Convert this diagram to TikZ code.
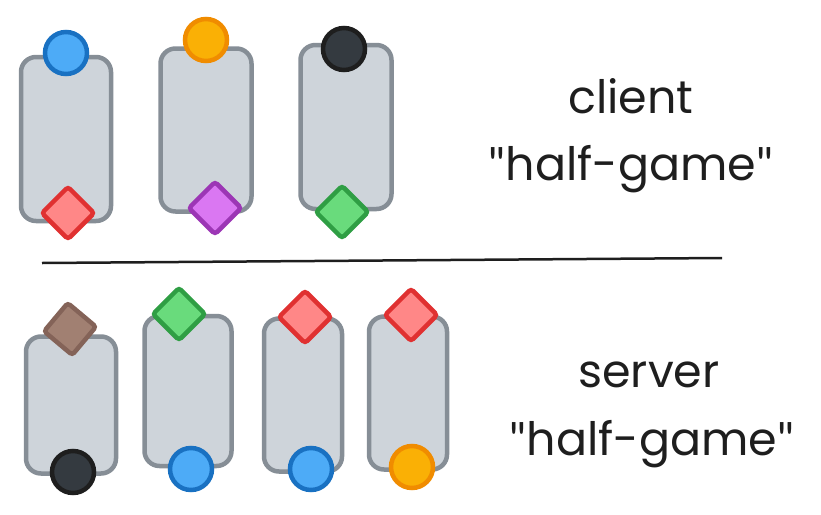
\documentclass[tikz,border=0pt]{standalone}
\usepackage{fontspec}
\setmainfont{Poppins}
\newfontfamily\quotefont{Lato}
\usetikzlibrary{shapes.geometric}

\definecolor{boxf}{HTML}{CED4DA}
\definecolor{boxl}{HTML}{868E96}
\definecolor{bluef}{HTML}{4DABF7}
\definecolor{bluel}{HTML}{1971C2}
\definecolor{orangef}{HTML}{FAB005}
\definecolor{orangel}{HTML}{F08C00}
\definecolor{darkf}{HTML}{343A40}
\definecolor{darkl}{HTML}{1E1E1E}
\definecolor{redf}{HTML}{FF8787}
\definecolor{redl}{HTML}{E03131}
\definecolor{purplef}{HTML}{DA77F2}
\definecolor{purplel}{HTML}{9C36B5}
\definecolor{greenf}{HTML}{69DB7C}
\definecolor{greenl}{HTML}{2F9E44}
\definecolor{brownf}{HTML}{A18072}
\definecolor{brownl}{HTML}{846358}
\definecolor{inkc}{HTML}{1E1E1E}

\newcommand{\dq}{{\quotefont"}}

\tikzset{
  slot/.style={draw=boxl, fill=boxf, line width=4.5pt, rounded corners=15pt},
  coin/.style 2 args={circle, draw=#1, fill=#2, line width=4.5pt, minimum size=42pt, inner sep=0pt},
  gem/.style 2 args={diamond, draw=#1, fill=#2, line width=4.5pt, minimum size=54pt, inner sep=0pt, rounded corners=3pt},
  lbl/.style={text=inkc, anchor=base, font=\fontsize{46}{50}\selectfont}
}

\begin{document}
\begin{tikzpicture}[x=1pt, y=-1pt]
  \useasboundingbox (0,0) rectangle (821,514);

  % client side
  \node[slot, minimum width=90pt, minimum height=164pt] (c1) at (66,139) {};
  \node[slot, minimum width=91pt, minimum height=163pt] (c2) at (206,130) {};
  \node[slot, minimum width=91pt, minimum height=164pt] (c3) at (346,127) {};
  \node[coin={bluel}{bluef}] (c1top) at (66,53) {};
  \node[coin={orangel}{orangef}] (c2top) at (206,40) {};
  \node[coin={darkl}{darkf}] (c3top) at (344,49) {};
  \node[gem={redl}{redf}] (c1bot) at (68,213) {};
  \node[gem={purplel}{purplef}] (c2bot) at (215,208) {};
  \node[gem={greenl}{greenf}] (c3bot) at (342,212) {};

  % separator
  \coordinate (sepl) at (42,263);
  \coordinate (sepr) at (722,258);
  \draw[inkc, line width=2.5pt] (sepl) -- (sepr);

  % server side
  \node[slot, minimum width=90pt, minimum height=137pt] (s1) at (71,405) {};
  \node[slot, minimum width=87pt, minimum height=150pt] (s2) at (188,391) {};
  \node[slot, minimum width=78pt, minimum height=153pt] (s3) at (303,395) {};
  \node[slot, minimum width=78pt, minimum height=153pt] (s4) at (408,393) {};
  \node[gem={brownl}{brownf}, rotate=5] (s1top) at (70,329) {};
  \node[gem={greenl}{greenf}] (s2top) at (179,314) {};
  \node[gem={redl}{redf}] (s3top) at (305,317) {};
  \node[gem={redl}{redf}] (s4top) at (411,315) {};
  \node[coin={darkl}{darkf}] (s1bot) at (73,472) {};
  \node[coin={bluel}{bluef}] (s2bot) at (191,469) {};
  \node[coin={bluel}{bluef}] (s3bot) at (311,469) {};
  \node[coin={orangel}{orangef}] (s4bot) at (412,467) {};

  % labels
  \node[lbl] (clientname) at (631,113) {client};
  \node[lbl] (clienthalf) at (631,180) {\dq half-game\dq};
  \node[lbl] (servername) at (649,387) {server};
  \node[lbl] (serverhalf) at (652,455) {\dq half-game\dq};
\end{tikzpicture}
\end{document}
